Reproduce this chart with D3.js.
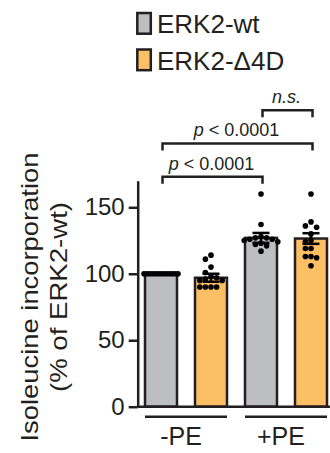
<!DOCTYPE html>
<html>
<head>
<meta charset="utf-8">
<script src="https://cdn.jsdelivr.net/npm/d3@7"></script>
<style>
body { margin: 0; background: #fff; }
text { font-family: "Liberation Sans", Arial, Helvetica, sans-serif; fill: #231f20; }
</style>
</head>
<body>
<div id="chart"></div>
<script>
var width = 330;
var height = 453;

// data ------------------------------------------------------------
var groups = ["-PE", "+PE"];
var series = ["ERK2-wt", "ERK2-\u03944D"];
var seriesColors = ["#bcbec0", "#fdbf66"];

// bar order: -PE wt, -PE d4D, +PE wt, +PE d4D
var means = [100, 97, 127, 126.5];
var sems = [0, 3, 3.7, 4];
var points = [
	[100, 100, 100, 100, 100, 100, 100, 100, 100, 100, 100, 100, 100],
	[114, 111, 105, 101, 98, 97, 96, 95, 95, 90, 90, 90, 90],
	[160, 137, 128, 127, 127, 126, 126, 125, 124, 123, 122, 121, 117],
	[160, 139, 136, 135, 130, 125, 124, 119, 119, 113, 113, 112, 106]
];
var yTicks = [0, 50, 100, 150];
var comparisons = [
	{a: 0, b: 2, label: "p < 0.0001", level: 173},
	{a: 0, b: 3, label: "p < 0.0001", level: 198},
	{a: 2, b: 3, label: "n.s.", level: 223}
];

var ink = "#231f20";

var svg = d3.select("#chart")
	.append("svg")
	.attr("width", width)
	.attr("height", height);

// scales ------------------------------------------------------------
var yScale = d3.scaleLinear()
	.domain([0, 170])
	.range([406.7, 180.7]);

var xGroup = d3.scaleBand()
	.domain(groups)
	.range([136, 336]);

var xSeries = d3.scaleBand()
	.domain(series)
	.range([0, xGroup.bandwidth()])
	.paddingInner(0.36)
	.paddingOuter(0.18);

var bars = [];
groups.forEach(function(g, gi) {
	series.forEach(function(s, si) {
		var i = gi * series.length + si;
		bars.push({group: g, series: s, color: seriesColors[si],
			mean: means[i], sem: sems[i], values: points[i]});
	});
});

function barLeft(d) { return xGroup(d.group) + xSeries(d.series); }
function barCenter(d) { return barLeft(d) + xSeries.bandwidth() / 2; }

// bars ------------------------------------------------------------
svg.append("g").selectAll("rect")
	.data(bars)
	.enter()
	.append("rect")
		.attr("x", barLeft)
		.attr("y", function(d) { return yScale(d.mean); })
		.attr("width", xSeries.bandwidth())
		.attr("height", function(d) { return yScale(0) - yScale(d.mean); })
		.attr("fill", function(d) { return d.color; })
		.attr("stroke", ink)
		.attr("stroke-width", 2.5);

// dots (simple dodge so they don't sit on top of each other) -------
var r = 2.8;
var maxSpread = 17;
function dodge(values) {
	var placed = [];
	values.forEach(function(v) {
		var py = yScale(v);
		var k = 0, off = 0;
		while (true) {
			off = (k % 2 === 0 ? 1 : -1) * Math.ceil(k / 2) * r * 2;
			var clash = placed.some(function(p) {
				var dx = p.off - off, dy = p.py - py;
				return dx * dx + dy * dy < (2 * r) * (2 * r) * 0.95;
			});
			if (!clash) break;
			k++;
		}
		placed.push({v: v, py: py, off: off});
	});
	var m = d3.max(placed, function(p) { return Math.abs(p.off); });
	if (m > maxSpread) {
		placed.forEach(function(p) { p.off = p.off * maxSpread / m; });
	}
	return placed;
}

var dotData = [];
bars.forEach(function(b) {
	dodge(b.values).forEach(function(p) {
		dotData.push({cx: barCenter(b) + p.off, cy: p.py});
	});
});

svg.append("g").selectAll("circle")
	.data(dotData)
	.enter()
	.append("circle")
		.attr("cx", function(d) { return d.cx; })
		.attr("cy", function(d) { return d.cy; })
		.attr("r", r)
		.attr("fill", "#000");

// error bars ------------------------------------------------------
var err = svg.append("g")
	.attr("stroke", "#000")
	.attr("stroke-width", 2.5)
	.attr("fill", "none");

bars.forEach(function(b) {
	if (b.sem === 0) return;
	var cx = barCenter(b);
	err.append("line")
		.attr("x1", cx).attr("x2", cx)
		.attr("y1", yScale(b.mean - b.sem)).attr("y2", yScale(b.mean + b.sem));
	[b.mean - b.sem, b.mean + b.sem].forEach(function(v) {
		err.append("line")
			.attr("x1", cx - 8.5).attr("x2", cx + 8.5)
			.attr("y1", yScale(v)).attr("y2", yScale(v));
	});
});

// axes ------------------------------------------------------------
var yAxis = svg.append("g")
	.attr("transform", "translate(137.7,0)")
	.call(d3.axisLeft(yScale).tickValues(yTicks).tickSize(9).tickSizeOuter(0).tickPadding(4));

yAxis.select(".domain").attr("stroke", ink).attr("stroke-width", 2.5);
yAxis.selectAll(".tick line").attr("stroke", ink).attr("stroke-width", 2.5);
yAxis.selectAll(".tick text")
	.attr("font-size", 24)
	.attr("font-family", "Liberation Sans, Arial, sans-serif")
	.attr("fill", ink);

svg.append("line")
	.attr("x1", 137.7)
	.attr("x2", width)
	.attr("y1", yScale(0))
	.attr("y2", yScale(0))
	.attr("stroke", ink)
	.attr("stroke-width", 2.5);

// group labels with underline
var gLab = svg.append("g").selectAll("g")
	.data(groups)
	.enter()
	.append("g");

gLab.append("line")
	.attr("x1", function(d) { return xGroup(d) + xGroup.bandwidth() / 2 - 41; })
	.attr("x2", function(d) { return xGroup(d) + xGroup.bandwidth() / 2 + 41; })
	.attr("y1", 416.7)
	.attr("y2", 416.7)
	.attr("stroke", ink)
	.attr("stroke-width", 2.5);

gLab.append("text")
	.attr("x", function(d) { return xGroup(d) + xGroup.bandwidth() / 2 - 5; })
	.attr("y", 445)
	.attr("text-anchor", "middle")
	.attr("font-size", 25)
	.text(function(d) { return d; });

// y title
var yTitle = ["Isoleucine incorporation", "(% of ERK2-wt)"];
var yTitleX = [37.5, 66.5];
var yTitleLen = [289, 190];
yTitle.forEach(function(t, i) {
	svg.append("text")
		.attr("transform", "translate(" + yTitleX[i] + ",297) rotate(-90)")
		.attr("text-anchor", "middle")
		.attr("font-size", 24)
		.attr("textLength", yTitleLen[i])
		.attr("lengthAdjust", "spacingAndGlyphs")
		.text(t);
});

// significance brackets ----------------------------------------------
var br = svg.append("g");
comparisons.forEach(function(c) {
	var xa = barCenter(bars[c.a]) + 1.5;
	var xb = barCenter(bars[c.b]) + 1.5;
	var yl = yScale(c.level);
	br.append("path")
		.attr("d", "M" + xa + "," + (yl + 7) + "V" + yl + "H" + xb + "V" + (yl + 7))
		.attr("fill", "none")
		.attr("stroke", ink)
		.attr("stroke-width", 2.5);
	var t = br.append("text")
		.attr("x", (xa + xb) / 2 - 1)
		.attr("y", yl - 7)
		.attr("text-anchor", "middle")
		.attr("font-size", 18);
	if (c.label === "n.s.") {
		t.attr("font-style", "italic").text(c.label);
	} else {
		t.append("tspan").attr("font-style", "italic").text("p");
		t.append("tspan").text(c.label.slice(1));
	}
});

// legend ------------------------------------------------------------
var legend = svg.append("g").selectAll("g")
	.data(series)
	.enter()
	.append("g")
		.attr("transform", function(d, i) { return "translate(0," + (i * 36.5) + ")"; });

legend.append("rect")
	.attr("x", 137.3)
	.attr("y", 13)
	.attr("width", 13.5)
	.attr("height", 20.7)
	.attr("fill", function(d, i) { return seriesColors[i]; })
	.attr("stroke", ink)
	.attr("stroke-width", 2.5);

legend.append("text")
	.attr("x", 157)
	.attr("y", 33)
	.attr("font-size", 26)
	.text(function(d) { return d; });
</script>
</body>
</html>
